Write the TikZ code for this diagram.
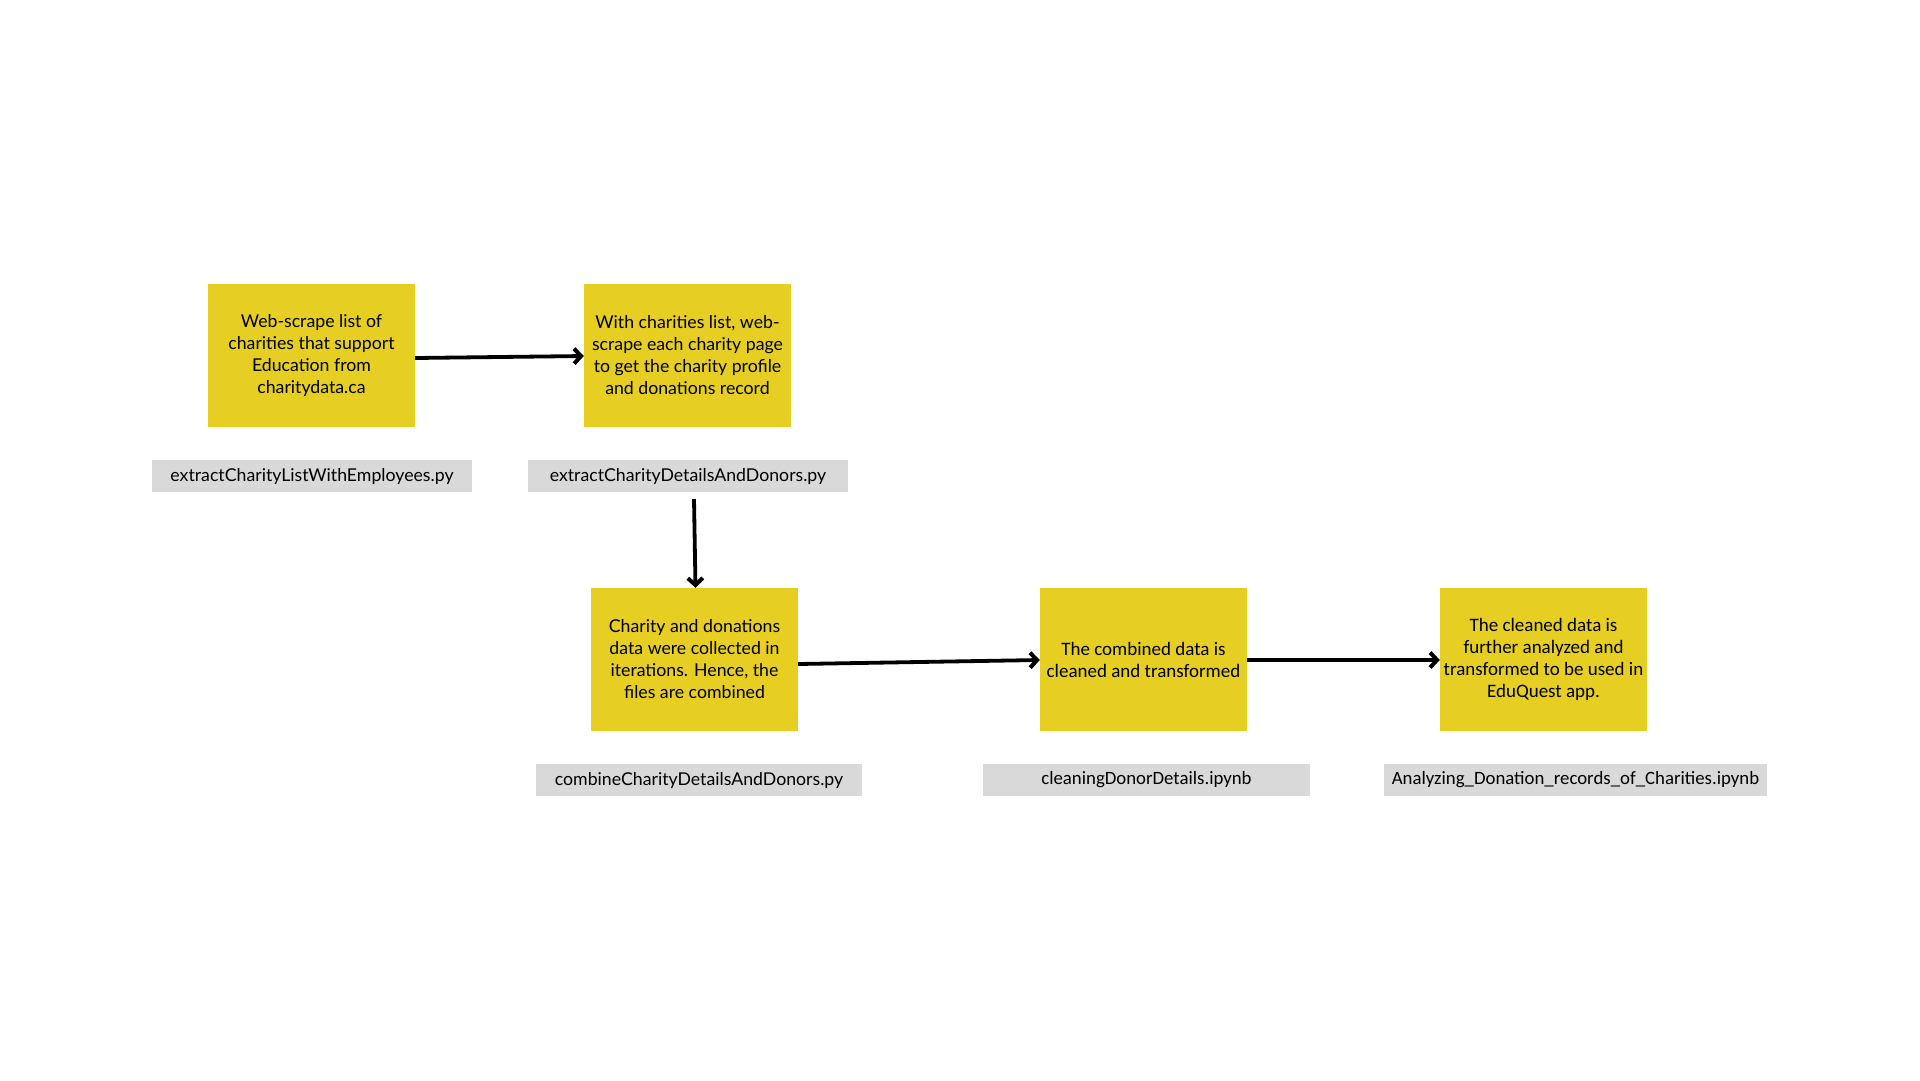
\documentclass[tikz,border=0pt]{standalone}
\usepackage{fontspec}
\setmainfont{Lato}
\newfontfamily\narrowfont{Carlito}
\usetikzlibrary{arrows.meta}
\definecolor{boxyellow}{RGB}{230,206,35}
\definecolor{labelgray}{RGB}{217,217,217}
\tikzset{
  stepbox/.style={fill=boxyellow, minimum width=207pt, minimum height=143pt, inner sep=0pt, align=center, font=\fontsize{17.7}{22}\selectfont, execute at begin node={\rule{0pt}{23pt}}},
  narrowbox/.style={stepbox, font=\narrowfont\fontsize{19}{22}\selectfont},
  filelabel/.style={fill=labelgray, minimum height=32pt, inner sep=0pt, font=\fontsize{17.7}{18}\selectfont},
  narrowlabel/.style={filelabel, font=\narrowfont\fontsize{18.8}{18}\selectfont},
  flow/.style={line width=3.8pt, -{Straight Barb[length=7pt,width=15pt,line width=4pt]}}
}
\begin{document}
\begin{tikzpicture}[x=1pt,y=-1pt]
\useasboundingbox (0,0) rectangle (1920,1080);
\node[stepbox] (b1) at (311.5,355.5) {Web-scrape list of\\charities that support\\Education from\\charitydata.ca};
\node[stepbox] (b2) at (687.5,355.5) {With charities list, web-\\scrape each charity page\\to get the charity profile\\and donations record};
\node[stepbox] (b3) at (694.5,659.5) {Charity and donations\\data were collected in\\iterations. Hence, the\\files are combined};
\node[narrowbox] (b4) at (1143.5,659.5) {The combined data is\\cleaned and transformed};
\node[narrowbox] (b5) at (1543.5,659.5) {The cleaned data is\\further analyzed and\\transformed to be used in\\EduQuest app.};
\node[filelabel, minimum width=320pt] (l1) at (312,476) {extractCharityListWithEmployees.py};
\node[filelabel, minimum width=320pt] (l2) at (688,476) {extractCharityDetailsAndDonors.py};
\node[filelabel, minimum width=326pt] (l3) at (699,780) {combineCharityDetailsAndDonors.py};
\node[narrowlabel, minimum width=327pt] (l4) at (1146.5,780) {cleaningDonorDetails.ipynb};
\node[narrowlabel, minimum width=383pt] (l5) at (1575.5,780) {Analyzing\_Donation\_records\_of\_Charities.ipynb};
\draw[flow] ([yshift=-2.5pt]b1.east) -- ([yshift=-0.5pt]b2.west);
\draw[flow] ([xshift=6pt,yshift=-7pt]l2.south) -- ([xshift=1pt]b3.north);
\draw[flow] ([yshift=-4.5pt]b3.east) -- ([yshift=-0.5pt]b4.west);
\draw[flow] ([yshift=-0.5pt]b4.east) -- ([yshift=-0.5pt]b5.west);
\end{tikzpicture}
\end{document}
